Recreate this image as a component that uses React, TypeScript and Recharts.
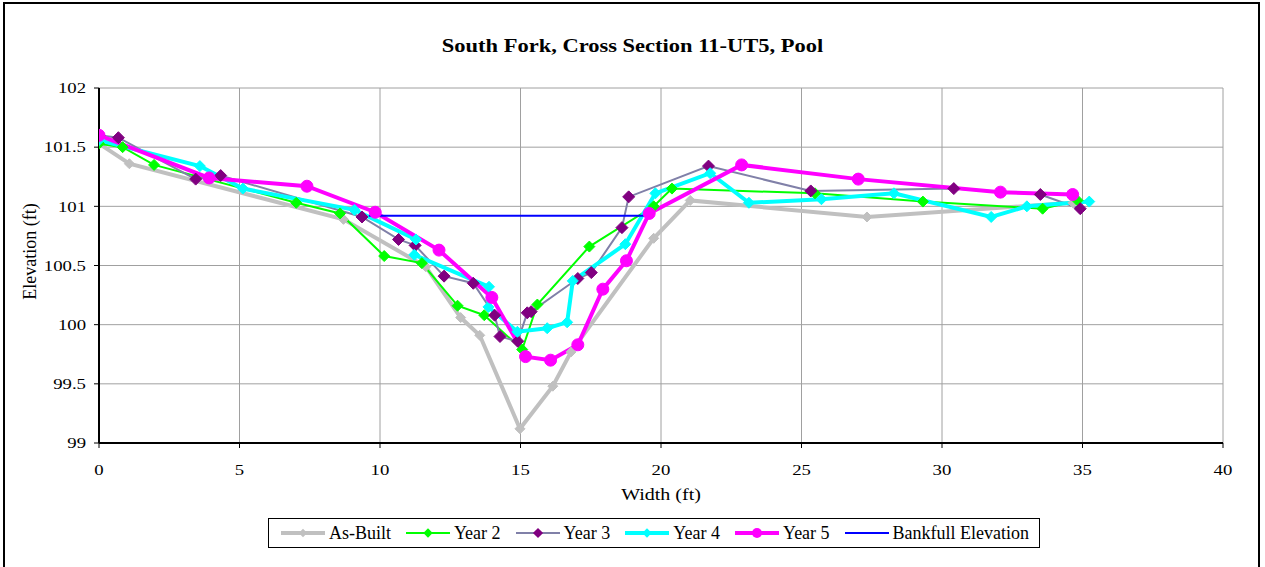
import React from 'react';
import { LineChart, Line, XAxis, YAxis, CartesianGrid, Label } from 'recharts';

const asBuiltX = [0, 1.08, 8.7, 11.63, 12.87, 13.55, 14.98, 16.15, 16.8, 19.74, 21.04, 27.33, 34.66];
const asBuiltY = [101.53, 101.36, 100.89, 100.49, 100.06, 99.91, 99.12, 99.48, 99.77, 100.73, 101.05, 100.91, 101.03];

const year2X = [0, 0.84, 1.96, 7.02, 8.58, 10.15, 11.49, 12.76, 13.71, 15.06, 15.6, 17.45, 19.74, 20.39, 25.48, 29.32, 33.58, 34.82];
const year2Y = [101.53, 101.5, 101.35, 101.03, 100.94, 100.58, 100.52, 100.16, 100.08, 99.79, 100.17, 100.66, 101.0, 101.15, 101.11, 101.04, 100.98, 101.05];

const year3X = [0, 0.69, 3.44, 4.33, 9.36, 10.66, 11.25, 12.28, 13.32, 14.08, 14.27, 14.9, 15.24, 15.38, 17.04, 17.52, 18.61, 18.85, 21.69, 25.33, 30.42, 33.5, 34.92];
const year3Y = [101.6, 101.58, 101.23, 101.26, 100.91, 100.72, 100.67, 100.41, 100.35, 100.08, 99.9, 99.86, 100.1, 100.11, 100.39, 100.44, 100.82, 101.08, 101.34, 101.13, 101.15, 101.1, 100.98];

const year4X = [0, 3.59, 5.12, 9.09, 11.28, 11.22, 13.88, 13.86, 14.89, 15.95, 16.66, 16.86, 18.73, 19.8, 21.75, 23.13, 25.71, 28.29, 31.75, 33.02, 35.24];
const year4Y = [101.56, 101.34, 101.15, 100.97, 100.72, 100.59, 100.32, 100.15, 99.94, 99.97, 100.02, 100.37, 100.68, 101.11, 101.28, 101.03, 101.06, 101.11, 100.91, 101.0, 101.04];

const year5X = [0, 3.92, 7.4, 9.83, 12.1, 13.98, 15.18, 16.07, 17.04, 17.93, 18.77, 19.58, 22.87, 27.02, 32.08, 34.65];
const year5Y = [101.6, 101.24, 101.17, 100.95, 100.63, 100.23, 99.73, 99.7, 99.83, 100.3, 100.54, 100.94, 101.35, 101.23, 101.12, 101.1];

const bankfullX = [9.6, 19.45];
const bankfullY = [100.92, 100.92];

const xTicks = [0, 5, 10, 15, 20, 25, 30, 35, 40];
const yTicks = [99, 99.5, 100, 100.5, 101, 101.5, 102];

const zip = (xs: number[], ys: number[]) => xs.map((x, i) => ({ x, y: ys[i] }));

const FONT = '"Liberation Serif", "Times New Roman", serif';
const STRETCH = 1.25;

const diamond = (color: string, r: number) => (props: any) => {
  const { cx, cy, index } = props;
  if (cx == null || cy == null) return <g key={index} />;
  return (
    <polygon
      key={index}
      points={`${cx},${cy - r} ${cx + r},${cy} ${cx},${cy + r} ${cx - r},${cy}`}
      fill={color}
      stroke={color}
    />
  );
};

const circle = (color: string, r: number) => (props: any) => {
  const { cx, cy, index } = props;
  if (cx == null || cy == null) return <g key={index} />;
  return <circle key={index} cx={cx} cy={cy} r={r} fill={color} stroke={color} />;
};

const XTick = (props: any) => {
  const { x, y, payload } = props;
  return (
    <text
      x={x}
      y={y}
      dy="0.71em"
      textAnchor="middle"
      fill="#000"
      fontSize={15}
      fontFamily={FONT}
      transform={`translate(${x} ${y}) scale(${STRETCH} 1) translate(${-x} ${-y})`}
    >
      {payload.value}
    </text>
  );
};

const YTick = (props: any) => {
  const { x, y, payload } = props;
  return (
    <text
      x={x}
      y={y}
      dy="0.355em"
      textAnchor="end"
      fill="#000"
      fontSize={15}
      fontFamily={FONT}
      transform={`translate(${x} ${y}) scale(${STRETCH} 1) translate(${-x} ${-y})`}
    >
      {payload.value}
    </text>
  );
};

const series = [
  { name: 'As-Built', data: zip(asBuiltX, asBuiltY), stroke: '#C0C0C0', width: 4, marker: 'diamond', mColor: '#C0C0C0', r: 5 },
  { name: 'Year 2', data: zip(year2X, year2Y), stroke: '#00FF00', width: 2, marker: 'diamond', mColor: '#00FF00', r: 5.5 },
  { name: 'Year 3', data: zip(year3X, year3Y), stroke: '#8080A8', width: 2, marker: 'diamond', mColor: '#800080', r: 6 },
  { name: 'Year 4', data: zip(year4X, year4Y), stroke: '#00FFFF', width: 4, marker: 'diamond', mColor: '#00FFFF', r: 5.5 },
  { name: 'Year 5', data: zip(year5X, year5Y), stroke: '#FF00FF', width: 4, marker: 'circle', mColor: '#FF00FF', r: 6 },
  { name: 'Bankfull Elevation', data: zip(bankfullX, bankfullY), stroke: '#0000FF', width: 2, marker: 'none', mColor: '#0000FF', r: 0 },
];

const LegendIcon = ({ s }: { s: any }) => (
  <svg width={48} height={14} style={{ display: 'block' }}>
    <line x1={2} y1={7} x2={46} y2={7} stroke={s.stroke} strokeWidth={s.width} />
    {s.marker === 'diamond' && (
      <polygon points={`24,${7 - s.r * 0.85} ${24 + s.r * 0.85},7 24,${7 + s.r * 0.85} ${24 - s.r * 0.85},7`} fill={s.mColor} />
    )}
    {s.marker === 'circle' && <circle cx={24} cy={7} r={5} fill={s.mColor} />}
  </svg>
);

export default function App() {
  return (
    <div style={{ position: 'absolute', left: 0, top: 0, width: 1265, height: 567, overflow: 'hidden', background: '#fff', fontFamily: FONT }}>
      <div
        style={{
          position: 'absolute',
          left: 0,
          top: 36,
          width: 1265,
          textAlign: 'center',
          fontWeight: 'bold',
          fontSize: 18,
          fontFamily: FONT,
          transform: `scaleX(${STRETCH})`,
          transformOrigin: 'center',
        }}
      >
        South Fork, Cross Section 11-UT5, Pool
      </div>
      <div style={{ position: 'absolute', left: 0, top: 0 }}>
        <LineChart width={1265} height={567} margin={{ top: 88, right: 42, left: 39, bottom: 64 }}>
          <CartesianGrid stroke="#A0A0A0" strokeWidth={1} verticalValues={xTicks} horizontalValues={yTicks} />
          <XAxis
            xAxisId={0}
            dataKey="x"
            type="number"
            domain={[0, 40]}
            ticks={xTicks}
            allowDataOverflow
            height={60}
            tickLine={{ stroke: '#000' }}
            axisLine={{ stroke: '#000', strokeWidth: 2 }}
            tickSize={5}
            tickMargin={16}
            tick={<XTick />}
          >
            <Label value="Width (ft)" position="center" dy={21} style={{ fill: '#000', fontSize: 16, fontFamily: FONT, transform: `scaleX(${STRETCH})`, transformBox: 'fill-box', transformOrigin: 'center' } as any} />
          </XAxis>
          <XAxis xAxisId="top" orientation="top" type="number" domain={[0, 40]} ticks={xTicks} tick={false} tickLine={false} axisLine={{ stroke: '#000', strokeWidth: 1.5 }} height={0} />
          <YAxis
            yAxisId={0}
            type="number"
            domain={[99, 102]}
            ticks={yTicks}
            allowDataOverflow
            width={60}
            tickLine={{ stroke: '#000' }}
            axisLine={{ stroke: '#000', strokeWidth: 2 }}
            tickSize={5}
            tickMargin={8}
            tick={<YTick />}
          >
            <Label value="Elevation (ft)" position="center" angle={-90} dx={-39} dy={-14} style={{ fill: '#000', fontSize: 18, fontFamily: FONT, textAnchor: 'middle' }} />
          </YAxis>
          <YAxis yAxisId="right" orientation="right" type="number" domain={[99, 102]} ticks={yTicks} tick={false} tickLine={false} axisLine={{ stroke: '#000', strokeWidth: 1.5 }} width={0} />
          {series.map((s) => (
            <Line
              key={s.name}
              name={s.name}
              data={s.data}
              dataKey="y"
              xAxisId={0}
              yAxisId={0}
              type="linear"
              stroke={s.stroke}
              strokeWidth={s.width}
              isAnimationActive={false}
              dot={s.marker === 'diamond' ? diamond(s.mColor, s.r) : s.marker === 'circle' ? circle(s.mColor, s.r) : false}
              activeDot={false}
            />
          ))}
        </LineChart>
      </div>
      <div
        style={{
          position: 'absolute',
          left: 268,
          top: 518,
          width: 772,
          height: 30,
          border: '1px solid #000',
          boxSizing: 'border-box',
          display: 'flex',
          alignItems: 'center',
          justifyContent: 'center',
          fontSize: 18,
          fontFamily: FONT,
          background: '#fff',
        }}
      >
        {series.map((s, i) => (
          <div key={s.name} style={{ display: 'flex', alignItems: 'center', marginRight: i < series.length - 1 ? 13 : 0 }}>
            <LegendIcon s={s} />
            <span style={{ marginLeft: 2 }}>{s.name}</span>
          </div>
        ))}
      </div>
      <div
        style={{
          position: 'absolute',
          left: 3,
          top: 2,
          width: 1257,
          height: 620,
          border: '2px solid #000',
          boxSizing: 'border-box',
          zIndex: 10,
          pointerEvents: 'none',
        }}
      />
    </div>
  );
}
